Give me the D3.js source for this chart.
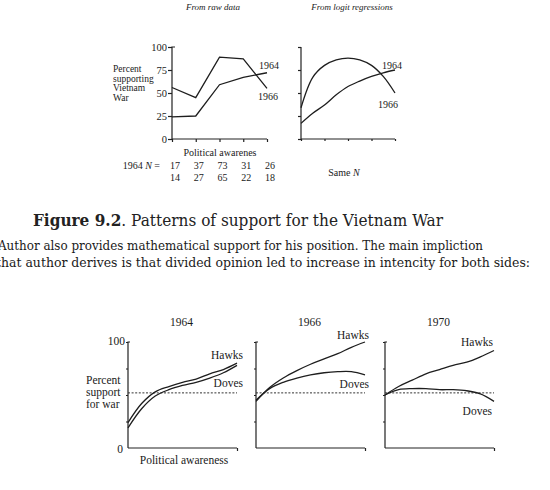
<!DOCTYPE html>
<html>
<head>
<meta charset="utf-8">
<script src="https://cdn.jsdelivr.net/npm/d3@7"></script>
<style>
  body { margin: 0; background: #fff; }
  svg { display: block; }
  .scan { font-family: "Liberation Serif", "Times New Roman", serif; fill: #1a1a1a; }
  .axis path, .axis line { stroke: #222; stroke-width: 1.2; fill: none; }
  .axis text { font-family: "Liberation Serif", serif; fill: #1a1a1a; }
  .curve { fill: none; stroke: #1e1e1e; stroke-width: 1.3; }
</style>
</head>
<body>
<script>
(function (){

  //---- data ----
  var awareness = [0, 1, 2, 3, 4];              //five awareness groups, raw data
  var raw1964 = [24, 25, 59, 67, 72];
  var raw1966 = [56, 45, 89, 87, 55];
  var n1964 = ["17", "37", "73", "31", "26"];
  var n1966 = ["14", "27", "65", "22", "18"];
  var yTicks = [0, 25, 50, 75, 100];

  var smoothX = [0, 0.5, 1, 1.5, 2, 2.5, 3, 3.5, 4]; //points along the smooth curves
  var logit1964 = [17, 28, 37, 48, 57, 63, 68, 72, 75];
  var logit1966 = [34, 67, 80, 86, 88, 86, 80, 68, 50];

  var panelYears = ["1964", "1966", "1970"];
  var hawks = [
    [24, 42, 53, 58, 62, 65, 70, 74, 80],
    [44, 57, 66, 73, 79, 84, 89, 95, 100],
    [50, 58, 64, 70, 74, 78, 81, 86, 92]
  ];
  var doves = [
    [19, 37, 49, 55, 59, 62, 66, 71, 78],
    [45, 56, 62, 66, 69, 71, 72, 72, 69],
    [50, 55, 56, 56, 55, 55, 54, 51, 44]
  ];
  var meanSupport = 52; //dotted reference line

  var width = 550, height = 490;
  var svg = d3.select("body").append("svg")
      .attr("width", width)
      .attr("height", height);

  var line = function(xs, ys, curve){
    return d3.line()
      .x(function(d){ return xs(d[0]); })
      .y(function(d){ return ys(d[1]); })
      .curve(curve);
  };
  var pairs = function(xv, yv){
    return xv.map(function(x, i){ return [x, yv[i]]; });
  };

  //================= top left: raw data =================
  var xA = d3.scaleLinear().domain([0, 4]).range([172, 267]);
  var yTop = d3.scaleLinear().domain([0, 100]).range([139, 47]);

  var gA = svg.append("g");
  gA.append("g").attr("class", "axis")
      .attr("transform", "translate(172,0)")
      .call(d3.axisLeft(yTop).tickValues(yTicks).tickSize(4).tickPadding(1))
      .call(function(g){
        g.select(".domain").attr("d", "M0,139V47h3");
        g.selectAll("text").attr("font-size", 10.5);
      });
  gA.append("g").attr("class", "axis")
      .attr("transform", "translate(0,139)")
      .call(d3.axisBottom(xA).tickValues(awareness).tickSize(3).tickFormat(""))
      .call(function(g){ g.select(".domain").attr("d", "M172,0H267"); });

  gA.append("path").attr("class", "curve")
      .attr("d", line(xA, yTop, d3.curveLinear)(pairs(awareness, raw1964)));
  gA.append("path").attr("class", "curve")
      .attr("d", line(xA, yTop, d3.curveLinear)(pairs(awareness, raw1966)));

  var tA = gA.append("g").attr("class", "scan").attr("font-size", 10);
  tA.append("text").attr("x", 213).attr("y", 10).attr("text-anchor", "middle")
      .attr("font-style", "italic").attr("font-size", 9).text("From raw data");
  ["Percent", "supporting", "Vietnam", "War"].forEach(function(s, i){
    tA.append("text").attr("x", 113).attr("y", 72 + i * 9.5)
      .attr("font-size", 9.5).text(s);
  });
  tA.append("text").attr("x", xA(4) - 8).attr("y", yTop(raw1964[4]) - 4).text("1964");
  tA.append("text").attr("x", xA(4) - 9).attr("y", yTop(raw1966[4]) + 12).text("1966");
  tA.append("text").attr("x", 220).attr("y", 156).attr("text-anchor", "middle")
      .text("Political awarenes");
  tA.append("text").attr("x", 160).attr("y", 169).attr("text-anchor", "end")
      .html("1964 <tspan font-style='italic'>N</tspan> =");
  awareness.forEach(function(a, i){
    tA.append("text").attr("x", xA(a) + 3).attr("y", 169).attr("text-anchor", "middle").text(n1964[i]);
    tA.append("text").attr("x", xA(a) + 3).attr("y", 181).attr("text-anchor", "middle").text(n1966[i]);
  });

  //================= top right: logit regressions =================
  var xB = d3.scaleLinear().domain([0, 4]).range([301, 395]);
  var gB = svg.append("g");
  gB.append("g").attr("class", "axis")
      .attr("transform", "translate(301,0)")
      .call(d3.axisLeft(yTop).tickValues(yTicks).tickSize(3).tickFormat(""))
      .call(function(g){ g.select(".domain").attr("d", "M0,139V47"); });
  gB.append("g").attr("class", "axis")
      .attr("transform", "translate(0,139)")
      .call(d3.axisBottom(xB).tickValues(awareness).tickSize(2).tickFormat(""))
      .call(function(g){ g.select(".domain").attr("d", "M301,0H395"); });
  gB.append("path").attr("class", "curve")
      .attr("d", line(xB, yTop, d3.curveCatmullRom)(pairs(smoothX, logit1964)));
  gB.append("path").attr("class", "curve")
      .attr("d", line(xB, yTop, d3.curveCatmullRom)(pairs(smoothX, logit1966)));

  var tB = gB.append("g").attr("class", "scan").attr("font-size", 10);
  tB.append("text").attr("x", 352).attr("y", 10).attr("text-anchor", "middle")
      .attr("font-style", "italic").attr("font-size", 9).text("From logit regressions");
  tB.append("text").attr("x", 382).attr("y", 69).text("1964");
  tB.append("text").attr("x", 378).attr("y", 108).text("1966");
  tB.append("text").attr("x", 344).attr("y", 176).attr("text-anchor", "middle")
      .html("Same <tspan font-style='italic'>N</tspan>");

  //================= caption and body text =================
  var cap = svg.append("text")
      .attr("x", 33).attr("y", 226)
      .attr("font-family", "DejaVu Serif")
      .attr("font-size", 16)
      .attr("fill", "#222")
      .attr("textLength", 410)
      .attr("lengthAdjust", "spacingAndGlyphs");
  cap.append("tspan").attr("font-weight", "bold").text("Figure 9.2");
  cap.append("tspan").text(". Patterns of support for the Vietnam War");

  var body = [
    {t: "Author also provides mathematical support for his position. The main impliction", x: -2, y: 250, w: 485},
    {t: "that author derives is that divided opinion led to increase in intencity for both sides:", x: -4, y: 267, w: 534}
  ];
  body.forEach(function(b){
    svg.append("text")
      .attr("x", b.x).attr("y", b.y)
      .attr("font-family", "DejaVu Serif")
      .attr("font-size", 13.5)
      .attr("fill", "#1a1a1a")
      .attr("textLength", b.w)
      .attr("lengthAdjust", "spacingAndGlyphs")
      .text(b.t);
  });

  //================= bottom: hawks vs doves =================
  var yBot = d3.scaleLinear().domain([0, 100]).range([448, 342]);
  var panelLeft = [128, 256, 385];
  var panelW = 109;

  panelYears.forEach(function(year, p){
    var x0 = panelLeft[p];
    var xs = d3.scaleLinear().domain([0, 4]).range([x0, x0 + panelW]);
    var g = svg.append("g");

    g.append("g").attr("class", "axis")
        .attr("transform", "translate(" + x0 + ",0)")
        .call(d3.axisLeft(yBot).tickValues(yTicks.slice(1)).tickSize(2).tickFormat(""))
        .call(function(a){ a.select(".domain").attr("d", "M0,448V342h2"); });
    g.append("g").attr("class", "axis")
        .attr("transform", "translate(0,448)")
        .call(d3.axisBottom(xs).tickValues([4]).tickSize(3).tickFormat(""))
        .call(function(a){ a.select(".domain").attr("d", "M" + x0 + ",0H" + (x0 + panelW)); });

    g.append("line")
        .attr("x1", xs(0)).attr("x2", xs(4))
        .attr("y1", yBot(meanSupport)).attr("y2", yBot(meanSupport))
        .attr("stroke", "#333").attr("stroke-width", 1)
        .attr("stroke-dasharray", "2,1.6");

    g.append("path").attr("class", "curve")
        .attr("d", line(xs, yBot, d3.curveCatmullRom)(pairs(smoothX, hawks[p])));
    g.append("path").attr("class", "curve")
        .attr("d", line(xs, yBot, d3.curveCatmullRom)(pairs(smoothX, doves[p])));

    var t = g.append("g").attr("class", "scan").attr("font-size", 11.5);
    t.append("text").attr("x", xs(2) - 1).attr("y", 326).attr("text-anchor", "middle").text(year);
    var hy = [359, 339, 346][p], dy = [387, 388, 415][p];
    t.append("text").attr("x", xs(4) + [6, 4, -1][p]).attr("y", hy).attr("text-anchor", "end").text("Hawks");
    t.append("text").attr("x", xs(4) + [6, 4, -2][p]).attr("y", dy).attr("text-anchor", "end").text("Doves");

    if (p === 0) {
      t.append("text").attr("x", x0 - 3).attr("y", 345).attr("text-anchor", "end").text("100");
      t.append("text").attr("x", x0 - 5).attr("y", 453).attr("text-anchor", "end").text("0");
      ["Percent", "support", "for war"].forEach(function(s, i){
        t.append("text").attr("x", 86).attr("y", 384 + i * 12).text(s);
      });
      t.append("text").attr("x", 184).attr("y", 464).attr("text-anchor", "middle")
          .text("Political awareness");
    }
  });

})();
</script>
</body>
</html>
